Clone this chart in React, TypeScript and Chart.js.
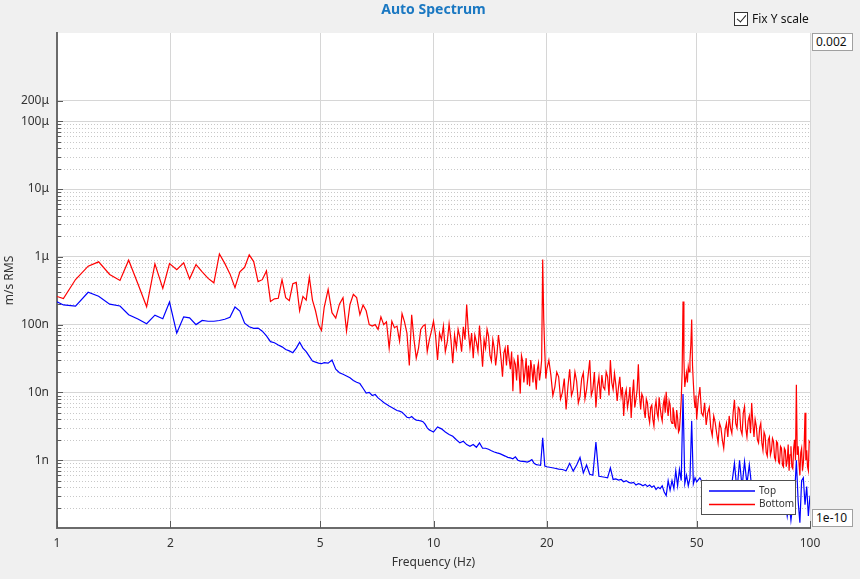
import { useEffect, useRef } from 'react';
import { Chart, registerables } from 'chart.js';

Chart.register(...registerables);

// frequency bins in Hz for the Top channel
const topFreqHz = [
  1.0, 1.04, 1.12, 1.21, 1.29, 1.38, 1.47, 1.55, 1.64, 1.73, 1.82, 1.91, 1.99, 2.08, 2.17, 2.25,
  2.34, 2.43, 2.52, 2.61, 2.7, 2.79, 2.88, 2.97, 3.06, 3.15, 3.24, 3.33, 3.42, 3.51, 3.6, 3.69,
  3.78, 3.87, 3.96, 4.05, 4.14, 4.23, 4.32, 4.41, 4.5, 4.59, 4.68, 4.77, 4.86, 4.95, 5.04,
  5.125, 5.25, 5.375, 5.5, 5.625, 5.75, 5.875, 6, 6.125, 6.25, 6.375, 6.5, 6.625, 6.75, 6.875, 7,
  7.125, 7.25, 7.375, 7.5, 7.625, 7.75, 7.875, 8, 8.125, 8.25, 8.375, 8.5, 8.625, 8.75, 8.875, 9,
  9.125, 9.25, 9.375, 9.5, 9.625, 9.75, 9.875, 10,
  10.25, 10.5, 10.75, 11, 11.25, 11.5, 11.75, 12, 12.25, 12.5, 12.75, 13, 13.25, 13.5, 13.75, 14,
  14.25, 14.5, 14.75, 15, 15.25, 15.5, 15.75, 16, 16.25, 16.5, 16.75, 17, 17.25, 17.5, 17.75, 18,
  18.25, 18.5, 18.75, 19, 19.25, 19.5, 19.75, 20,
  20.5, 21, 21.5, 22, 22.5, 23, 23.5, 24, 24.5, 25, 25.5, 26, 26.5, 27, 27.5, 28, 28.5, 29, 29.5, 30,
  30.5, 31, 31.5, 32, 32.5, 33, 33.5, 34, 34.5, 35, 35.5, 36, 36.5, 37, 37.5, 38, 38.5, 39, 39.5, 40,
  40.5, 41, 41.5, 42, 42.5, 43, 43.5, 44, 44.5, 45, 45.5, 46, 46.5, 47, 47.5, 48, 48.5, 49, 49.5, 50,
  51, 52, 53, 54, 55, 56, 57, 58, 59, 60, 61, 62, 63, 64, 65, 66, 67, 68, 69, 70,
  71, 72, 73, 74, 75, 76, 77, 78, 79, 80, 81, 82, 83, 84, 85, 86, 87, 88, 89, 90,
  91, 92, 93, 94, 95, 96, 97, 98, 99, 100,
];

// Top channel, nm/s RMS
const topNano = [
  217, 195, 187, 300, 262, 200, 188, 140, 121, 103, 138, 122, 215, 75, 130, 126,
  100, 115, 112, 112, 115, 120, 128, 182, 158, 105, 93, 88, 89, 80, 68, 56,
  54, 50, 47, 43, 41, 38.5, 45, 55, 45, 40, 34, 29, 28, 27, 26.5,
  27.5, 27, 30, 22, 19.5, 18.5, 17.5, 16.4, 15, 14.1, 13.5, 11.5, 9.8, 10, 9, 9.3,
  8.3, 7.7, 7.1, 6.7, 6.3, 6.0, 5.7, 5.4, 5.3, 5.1, 4.7, 4.3, 4.2, 4.4, 4.1, 3.9,
  3.85, 3.8, 3.7, 3.4, 3.0, 2.8, 2.7, 2.6,
  3.1, 2.9, 2.6, 2.4, 2.25, 2.0, 1.8, 1.9, 1.7, 1.6, 1.7, 1.55, 1.8, 1.5, 1.5, 1.45,
  1.38, 1.32, 1.28, 1.25, 1.2, 1.15, 1.1, 1.08, 1.05, 1.12, 1.0, 0.97, 0.96, 0.95, 0.94, 0.97,
  1.02, 0.9, 0.86, 0.85, 0.84, 2.14, 0.82, 0.8,
  0.78, 0.76, 0.74, 0.73, 0.7, 0.9, 0.69, 0.85, 1.1, 0.65, 0.85, 0.62, 0.6, 1.85, 0.58, 0.57, 0.56, 0.55, 0.77, 0.52,
  0.53, 0.51, 0.52, 0.48, 0.5, 0.47, 0.46, 0.47, 0.43, 0.45, 0.44, 0.42, 0.44, 0.41, 0.43, 0.4, 0.42, 0.37, 0.4, 0.38,
  0.42, 0.34, 0.3, 0.5, 0.36, 0.5, 0.38, 0.7, 0.42, 0.73, 0.5, 9.5, 0.45, 0.6, 0.42, 0.55, 3.8, 0.45, 0.55, 0.48,
  0.55, 0.45, 0.5, 0.38, 0.45, 0.36, 0.42, 0.35, 0.4, 0.33, 0.38, 0.45, 0.9, 0.35, 1.0, 0.4, 0.95, 0.45, 0.85, 0.4,
  0.32, 0.38, 0.3, 0.35, 0.28, 0.33, 0.27, 0.32, 0.25, 0.3, 0.22, 0.28, 0.2, 0.26, 0.18, 0.25, 0.15, 0.24, 0.13, 0.22,
  0.3, 1.0, 0.25, 0.12, 0.5, 0.55, 0.22, 0.41, 0.15, 0.3,
];

// frequency bins in Hz for the Bottom channel (finer where it is noisy)
const bottomFreqHz = [
  1.0, 1.04, 1.12, 1.21, 1.29, 1.38, 1.47, 1.55, 1.64, 1.73, 1.82, 1.91, 1.99, 2.08, 2.17, 2.25,
  2.34, 2.43, 2.52, 2.61, 2.7, 2.79, 2.88, 2.97, 3.06, 3.15, 3.24, 3.33, 3.42, 3.51, 3.6, 3.69,
  3.78, 3.87, 3.96, 4.05, 4.14, 4.23, 4.32, 4.41, 4.5, 4.59, 4.68, 4.77, 4.86, 4.95, 5.04,
  5.125, 5.25, 5.375, 5.5, 5.625, 5.75, 5.875, 6, 6.125, 6.25, 6.375, 6.5, 6.625, 6.75, 6.875, 7,
  7.125, 7.25, 7.375, 7.5, 7.625, 7.75, 7.875, 8, 8.125, 8.25, 8.375, 8.5, 8.625, 8.75, 8.875, 9,
  9.125, 9.25, 9.375, 9.5, 9.625, 9.75, 9.875, 10,
  10.125, 10.25, 10.375, 10.5, 10.625, 10.75, 10.875, 11, 11.125, 11.25, 11.375, 11.5, 11.625, 11.75, 11.875, 12,
  12.125, 12.25, 12.375, 12.5, 12.625, 12.75, 12.875, 13, 13.125, 13.25, 13.375, 13.5, 13.625, 13.75, 13.875, 14,
  14.125, 14.25, 14.375, 14.5, 14.625, 14.75, 14.875, 15, 15.125, 15.25, 15.375, 15.5, 15.625, 15.75, 15.875, 16,
  16.125, 16.25, 16.375, 16.5, 16.625, 16.75, 16.875, 17, 17.125, 17.25, 17.375, 17.5, 17.625, 17.75, 17.875, 18,
  18.125, 18.25, 18.375, 18.5, 18.625, 18.75, 18.875, 19, 19.125, 19.25, 19.375, 19.5, 19.625, 19.75, 19.875, 20,
  20.25, 20.5, 20.75, 21, 21.25, 21.5, 21.75, 22, 22.25, 22.5, 22.75, 23, 23.25, 23.5, 23.75, 24,
  24.25, 24.5, 24.75, 25, 25.25, 25.5, 25.75, 26, 26.25, 26.5, 26.75, 27, 27.25, 27.5, 27.75, 28,
  28.25, 28.5, 28.75, 29, 29.25, 29.5, 29.75, 30, 30.25, 30.5, 30.75, 31, 31.25, 31.5, 31.75, 32,
  32.25, 32.5, 32.75, 33, 33.25, 33.5, 33.75, 34, 34.25, 34.5, 34.75, 35, 35.25, 35.5, 35.75, 36,
  36.25, 36.5, 36.75, 37, 37.25, 37.5, 37.75, 38, 38.25, 38.5, 38.75, 39, 39.25, 39.5, 39.75, 40,
  40.25, 40.5, 40.75, 41, 41.25, 41.5, 41.75, 42, 42.25, 42.5, 42.75, 43, 43.25, 43.5, 43.75, 44,
  44.25, 44.5, 44.75, 45, 45.25, 45.5, 45.75, 46, 46.25, 46.5, 46.75, 47, 47.25, 47.5, 47.75, 48,
  48.25, 48.5, 48.75, 49, 49.25, 49.5, 49.75, 50,
  50.5, 51, 51.5, 52, 52.5, 53, 53.5, 54, 54.5, 55, 55.5, 56, 56.5, 57, 57.5, 58, 58.5, 59, 59.5, 60,
  60.5, 61, 61.5, 62, 62.5, 63, 63.5, 64, 64.5, 65, 65.5, 66, 66.5, 67, 67.5, 68, 68.5, 69, 69.5, 70,
  70.5, 71, 71.5, 72, 72.5, 73, 73.5, 74, 74.5, 75, 75.5, 76, 76.5, 77, 77.5, 78, 78.5, 79, 79.5, 80,
  80.5, 81, 81.5, 82, 82.5, 83, 83.5, 84, 84.5, 85, 85.5, 86, 86.5, 87, 87.5, 88, 88.5, 89, 89.5, 90,
  90.5, 91, 91.5, 92, 92.5, 93, 93.5, 94, 94.5, 95, 95.5, 96, 96.5, 97, 97.5, 98, 98.5, 99, 99.5, 100,
];

// Bottom channel, nm/s RMS
const bottomNano = [
  260, 243, 462, 728, 843, 548, 447, 891, 400, 183, 788, 341, 795, 646, 815, 473,
  770, 600, 480, 413, 1100, 800, 560, 350, 600, 700, 1070, 850, 430, 460, 620, 220,
  240, 245, 460, 250, 225, 400, 420, 160, 260, 230, 500, 230, 160, 100, 82,
  180, 330, 150, 125, 200, 250, 80, 198, 280, 250, 140, 195, 160, 100, 95, 100,
  85, 130, 100, 110, 45, 112, 90, 95, 57, 145, 110, 75, 25, 140, 60, 32,
  45, 85, 95, 100, 40, 60, 80, 112,
  70, 30, 75, 60, 95, 40, 55, 103, 60, 27, 70, 45, 85, 65, 40, 93,
  60, 198, 80, 45, 75, 32, 70, 55, 40, 97, 50, 24, 60, 45, 85, 68,
  35, 29, 60, 45, 25, 38, 70, 48, 30, 17, 38, 45, 25, 50, 32, 22,
  40, 10.4, 30, 26, 15, 36, 20, 9.6, 35, 29, 14, 20, 32, 13, 25, 12.3,
  30, 22, 14, 26, 17, 11, 22, 27, 15, 20, 30, 910, 120, 40, 16, 22,
  30, 18, 9, 12, 20, 17, 8, 10, 16, 5.6, 12, 22, 9, 11, 20, 14.6,
  7, 8.8, 16, 19.5, 8, 11, 18, 30, 9, 11, 20, 6, 12, 17, 8, 18,
  12, 11, 20, 17, 9, 30, 14, 11, 19, 13, 7.5, 12, 17, 8.8, 12, 4.5,
  9, 11, 6, 7.8, 12, 4.2, 9, 15.5, 6, 8, 11, 26, 9, 5.6, 9.5, 8.5,
  5.5, 4.2, 8, 7, 4.5, 3.6, 6, 6.5, 4, 3.2, 6, 7.5, 5, 4.2, 8.5, 6,
  4.5, 3.8, 6.5, 8, 5, 10.2, 6, 4.5, 7.5, 6.5, 3.8, 3.5, 6, 5, 3.2, 3.0,
  5.5, 4.2, 2.6, 2.8, 4.5, 7.8, 20, 220, 30, 12, 16, 19.5, 14, 24, 20, 30,
  50, 119, 25, 13.8, 8, 6, 9, 4.0,
  8, 12, 5, 4.5, 7, 3.3, 5, 6, 3, 2.3, 4.5, 3.6, 2.5, 1.8, 3.5, 3.0, 2, 1.5, 2.8, 3.5,
  2.2, 4.5, 3, 2.5, 5, 7.8, 3.5, 3, 6, 5.6, 2.8, 2.4, 5, 6.2, 3, 2.2, 3.8, 4.5, 2.5, 7,
  3.5, 2.2, 4, 3.2, 2, 1.8, 3, 3.5, 1.8, 1.4, 2.6, 2.3, 1.3, 1.15, 2, 2.2, 1.2, 1.4, 2.1, 1.9,
  1.1, 1.0, 1.9, 1.8, 0.95, 0.9, 1.6, 1.5, 0.85, 0.8, 1.5, 1.4, 0.8, 1.0, 1.7, 0.7, 1.2, 1.6, 0.8, 0.75,
  1.5, 2.0, 1.0, 13, 1.2, 1.6, 0.9, 0.6, 1.3, 1.5, 0.7, 0.9, 1.6, 5, 1.0, 1.4, 0.8, 0.7, 1.9, 1.8,
];

const xTicks = [1, 2, 5, 10, 20, 50, 100];
const yTicks = [1e-9, 1e-8, 1e-7, 1e-6, 1e-5, 1e-4, 2e-4];
const yTickLabels = ['1n', '10n', '100n', '1μ', '10μ', '100μ', '200μ'];
const yDecades = [1e-10, 1e-9, 1e-8, 1e-7, 1e-6, 1e-5];
const yMinorSteps = [2, 3, 4, 5, 6, 7, 8, 9];

const FONT = '"Noto Sans", "Open Sans", sans-serif';

// white plot background, dotted minor grid and inward tick marks
const plotDecor = {
  id: 'plotDecor',
  beforeDraw(chart: any) {
    const { ctx, chartArea: a } = chart;
    ctx.save();
    ctx.fillStyle = '#ffffff';
    ctx.fillRect(a.left, a.top, a.right - a.left, a.bottom - a.top);
    ctx.restore();
  },
  beforeDatasetsDraw(chart: any) {
    const { ctx, chartArea: a, scales } = chart;
    const x = scales.x;
    const y = scales.y;
    ctx.save();
    ctx.lineWidth = 1;
    for (const d of yDecades) {
      for (const m of yMinorSteps) {
        const py = Math.round(y.getPixelForValue(d * m)) + 0.5;
        ctx.strokeStyle = '#c8c8c8';
        ctx.setLineDash([1, 2]);
        ctx.beginPath();
        ctx.moveTo(a.left + 1, py);
        ctx.lineTo(a.right, py);
        ctx.stroke();
        ctx.setLineDash([]);
        ctx.strokeStyle = '#5a5a5a';
        ctx.beginPath();
        ctx.moveTo(a.left, py);
        ctx.lineTo(a.left + 4, py);
        ctx.stroke();
      }
    }
    ctx.strokeStyle = '#5a5a5a';
    for (const v of yTicks) {
      const py = Math.round(y.getPixelForValue(v)) + 0.5;
      ctx.beginPath();
      ctx.moveTo(a.left, py);
      ctx.lineTo(a.left + 6, py);
      ctx.stroke();
    }
    for (const v of xTicks) {
      const px = Math.round(x.getPixelForValue(v)) + 0.5;
      ctx.beginPath();
      ctx.moveTo(px, a.bottom);
      ctx.lineTo(px, a.bottom - 7);
      ctx.stroke();
    }
    ctx.restore();
  },
};

// boxed legend sitting inside the plot, bottom right
const boxLegend = {
  id: 'boxLegend',
  afterDatasetsDraw(chart: any) {
    const { ctx, chartArea: a } = chart;
    const w = 94;
    const h = 34;
    const x0 = Math.round(a.right - 15 - w);
    const y0 = Math.round(a.bottom - 14 - h);
    ctx.save();
    ctx.fillStyle = '#ffffff';
    ctx.fillRect(x0, y0, w, h);
    ctx.strokeStyle = '#505050';
    ctx.lineWidth = 1;
    ctx.strokeRect(x0 + 0.5, y0 + 0.5, w, h);
    chart.data.datasets.forEach((ds: any, i: number) => {
      const ly = y0 + 11 + i * 13.5;
      ctx.strokeStyle = ds.borderColor;
      ctx.lineWidth = 1.3;
      ctx.beginPath();
      ctx.moveTo(x0 + 8, ly);
      ctx.lineTo(x0 + 54, ly);
      ctx.stroke();
      ctx.fillStyle = '#333333';
      ctx.font = `10px ${FONT}`;
      ctx.textBaseline = 'middle';
      ctx.fillText(ds.label, x0 + 58, ly);
    });
    ctx.restore();
  },
};

const AutoSpectrumChart = () => {
  const chartRef = useRef<HTMLCanvasElement>(null);
  const chartInstance = useRef<Chart | null>(null);

  useEffect(() => {
    if (!chartRef.current) return;
    if (chartInstance.current) chartInstance.current.destroy();

    const toPoints = (freqs: number[], vals: number[]) =>
      vals.map((v, i) => ({ x: freqs[i], y: v * 1e-9 }));

    chartInstance.current = new Chart(chartRef.current, {
      type: 'line',
      data: {
        datasets: [
          {
            label: 'Top',
            data: toPoints(topFreqHz, topNano),
            borderColor: '#0000ff',
            borderWidth: 1.2,
            pointRadius: 0,
            tension: 0,
          },
          {
            label: 'Bottom',
            data: toPoints(bottomFreqHz, bottomNano),
            borderColor: '#ff0000',
            borderWidth: 1.2,
            pointRadius: 0,
            tension: 0,
          },
        ],
      },
      options: {
        responsive: true,
        maintainAspectRatio: false,
        animation: false,
        layout: { padding: { left: 0, right: 50, top: 0, bottom: 0 } },
        plugins: {
          legend: { display: false },
          tooltip: { enabled: false },
          title: {
            display: true,
            fullSize: false,
            text: 'Auto Spectrum',
            color: '#1a78c2',
            font: { family: FONT, size: 14, weight: 'bold' },
            padding: { top: 2, bottom: 14.2 },
          },
        },
        scales: {
          x: {
            type: 'logarithmic',
            min: 1,
            max: 100,
            afterBuildTicks: (s: any) => {
              s.ticks = xTicks.map((v) => ({ value: v }));
            },
            afterFit: (s: any) => {
              s.height = 51;
            },
            ticks: {
              autoSkip: false,
              maxRotation: 0,
              color: '#333333',
              font: { family: FONT, size: 12 },
              callback: (_v: any, i: number) => String(xTicks[i]),
            },
            grid: { color: '#d6d6d6', tickColor: 'rgba(0,0,0,0)', tickLength: 5 },
            border: { color: '#6b6b6b', width: 2 },
            title: {
              display: true,
              text: 'Frequency (Hz)',
              color: '#333333',
              font: { family: FONT, size: 12 },
              padding: { top: 0, bottom: 9 },
            },
          },
          y: {
            type: 'logarithmic',
            min: 1e-10,
            max: 2e-3,
            afterBuildTicks: (s: any) => {
              s.ticks = yTicks.map((v) => ({ value: v }));
            },
            afterFit: (s: any) => {
              s.width = 57;
            },
            ticks: {
              autoSkip: false,
              color: '#333333',
              font: { family: FONT, size: 12 },
              callback: (_v: any, i: number) => yTickLabels[i],
            },
            grid: { color: '#d6d6d6', tickColor: 'rgba(0,0,0,0)', tickLength: 5 },
            border: { color: '#6b6b6b', width: 2 },
            title: {
              display: true,
              text: 'm/s RMS',
              color: '#333333',
              font: { family: FONT, size: 12 },
              padding: { top: 2, bottom: 0 },
            },
          },
        },
      },
      plugins: [plotDecor, boxLegend],
    } as any);

    return () => {
      if (chartInstance.current) {
        chartInstance.current.destroy();
        chartInstance.current = null;
      }
    };
  }, []);

  const boxStyle: React.CSSProperties = {
    position: 'absolute',
    left: 812,
    width: 41,
    height: 18,
    background: '#ffffff',
    border: '1px solid #a0a0a0',
    boxSizing: 'border-box',
    font: `12px ${FONT}`,
    color: '#111111',
    lineHeight: '16px',
    paddingLeft: 3,
  };

  return (
    <div
      style={{
        position: 'fixed',
        left: 0,
        top: 0,
        width: 860,
        height: 579,
        background: '#f0f0f0',
        overflow: 'hidden',
      }}
    >
      <canvas ref={chartRef}></canvas>
      <div
        style={{
          position: 'absolute',
          left: 734,
          top: 12,
          width: 14,
          height: 14,
          boxSizing: 'border-box',
          border: '1px solid #333333',
          background: '#ffffff',
        }}
      >
        <div
          style={{
            position: 'absolute',
            left: 4,
            top: 0,
            width: 4,
            height: 8,
            borderRight: '1.5px solid #222222',
            borderBottom: '1.5px solid #222222',
            transform: 'rotate(40deg)',
          }}
        />
      </div>
      <div
        style={{
          position: 'absolute',
          left: 752,
          top: 10,
          font: `12px ${FONT}`,
          color: '#111111',
          whiteSpace: 'nowrap',
        }}
      >
        Fix Y scale
      </div>
      <div style={{ ...boxStyle, top: 33 }}>0.002</div>
      <div style={{ ...boxStyle, top: 509 }}>1e-10</div>
    </div>
  );
};

export default function App() {
  return <AutoSpectrumChart />;
}
